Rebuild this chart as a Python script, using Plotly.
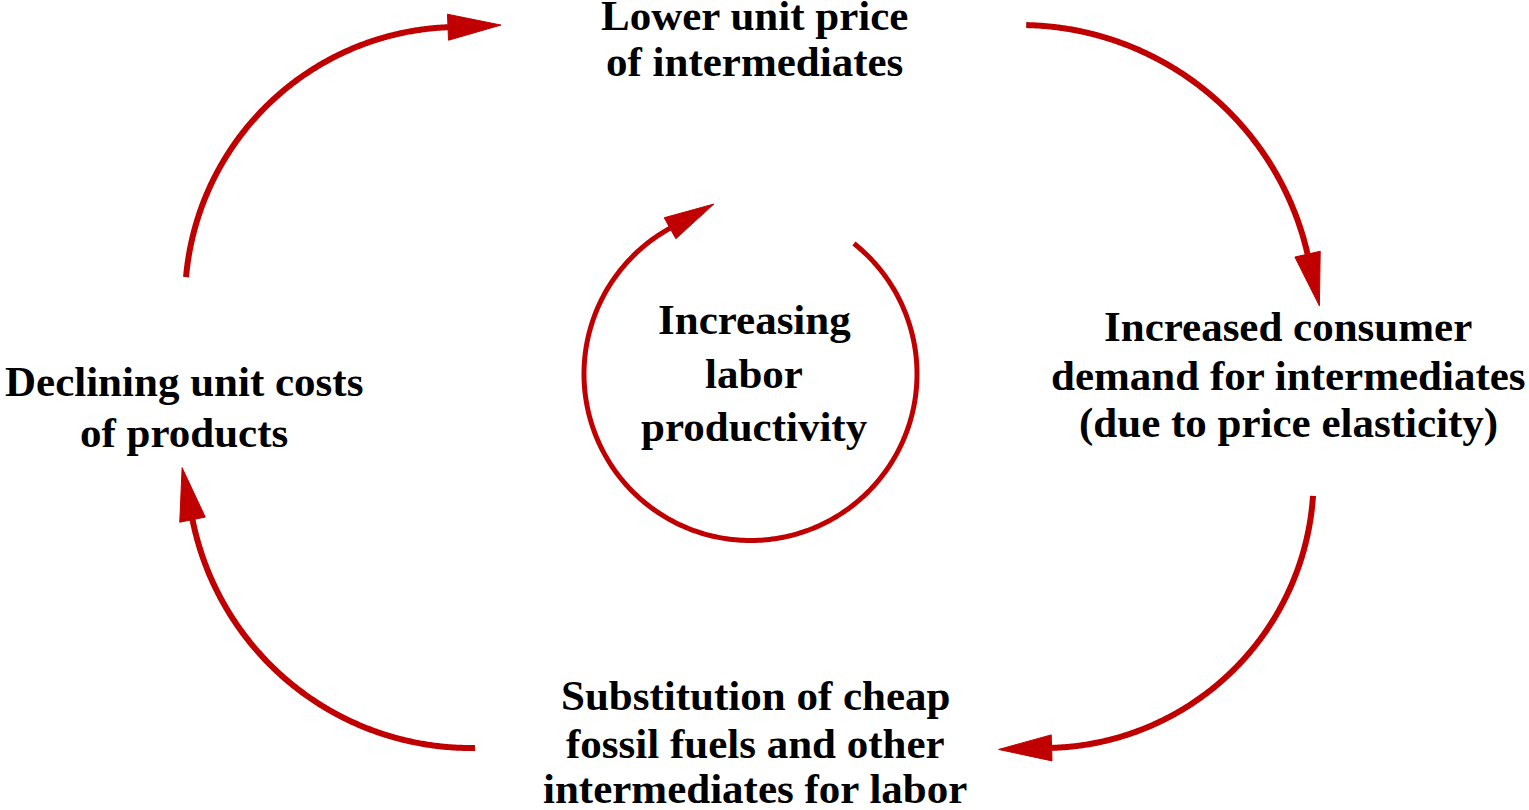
import numpy as np
import plotly.graph_objects as go

# ---- content -------------------------------------------------------------
node_top = ["Lower unit price", "of intermediates"]
node_right = ["Increased consumer", "demand for intermediates", "(due to price elasticity)"]
node_bottom = ["Substitution of cheap", "fossil fuels and other", "intermediates for labor"]
node_left = ["Declining unit costs", "of products"]
node_center = ["Increasing", "labor", "productivity"]

# ---- layout / geometry (pixel space, y grows downward) -------------------
W, H = 1529, 810
RED = "#C00000"
FONT = "Liberation Serif, Times New Roman, serif"
FSIZE = 43

# arcs: centre x, centre y, radius, start angle, end angle (deg, screen coords)
arcs = [
    (459, 301, 274, 185.0, 267.7),
    (1020, 320, 295, 271.2, 347.1),
    (1043.6, 478, 270, 3.8, 88.3),
    (471, 464, 284, 89.2, 168.7),
]
inner_arc = (750.5, 374, 166.5, 308.4, 601.1)

ARROW_LEN = 53
ARROW_HALF = 13

fig = go.Figure()


def add_arc(cx, cy, r, a0, a1, width, head_len, head_half):
    t = np.radians(np.linspace(a0, a1, 300))
    xs = cx + r * np.cos(t)
    ys = cy + r * np.sin(t)
    fig.add_trace(go.Scatter(x=xs, y=ys, mode="lines",
                             line=dict(color=RED, width=width, simplify=False),
                             hoverinfo="skip", showlegend=False))
    te = np.radians(a1)
    ex, ey = cx + r * np.cos(te), cy + r * np.sin(te)
    dx, dy = -np.sin(te), np.cos(te)
    nx, ny = -dy, dx
    tip = (ex + dx * head_len, ey + dy * head_len)
    b1 = (ex + nx * head_half, ey + ny * head_half)
    b2 = (ex - nx * head_half, ey - ny * head_half)
    fig.add_trace(go.Scatter(x=[tip[0], b1[0], b2[0], tip[0]],
                             y=[tip[1], b1[1], b2[1], tip[1]],
                             mode="lines", fill="toself", fillcolor=RED,
                             line=dict(color=RED, width=1),
                             hoverinfo="skip", showlegend=False))


for a in arcs:
    add_arc(*a, width=6, head_len=ARROW_LEN, head_half=ARROW_HALF)
add_arc(*inner_arc, width=5, head_len=50, head_half=12)


def add_lines(lines, cx, ys):
    for txt, y in zip(lines, ys):
        fig.add_annotation(x=cx, y=y, text="<b>%s</b>" % txt, showarrow=False,
                           xanchor="center", yanchor="middle", borderpad=0,
                           font=dict(family=FONT, size=FSIZE, color="black"))


add_lines(node_top, 754, [15, 61])
add_lines(node_right, 1288, [326, 375, 423])
add_lines(node_bottom, 755, [695, 743, 788])
add_lines(node_left, 184, [381, 432])
add_lines(node_center, 754, [319, 373, 426])

fig.update_xaxes(range=[0, W], visible=False, fixedrange=True)
fig.update_yaxes(range=[H, 0], visible=False, fixedrange=True)
fig.update_layout(width=W, height=H, margin=dict(l=0, r=0, t=0, b=0),
                  paper_bgcolor="white", plot_bgcolor="white",
                  showlegend=False)

fig.write_html("out.html", config={"displayModeBar": False},
               post_script="document.body.style.margin='0';"
                           "document.body.style.overflow='hidden';")
